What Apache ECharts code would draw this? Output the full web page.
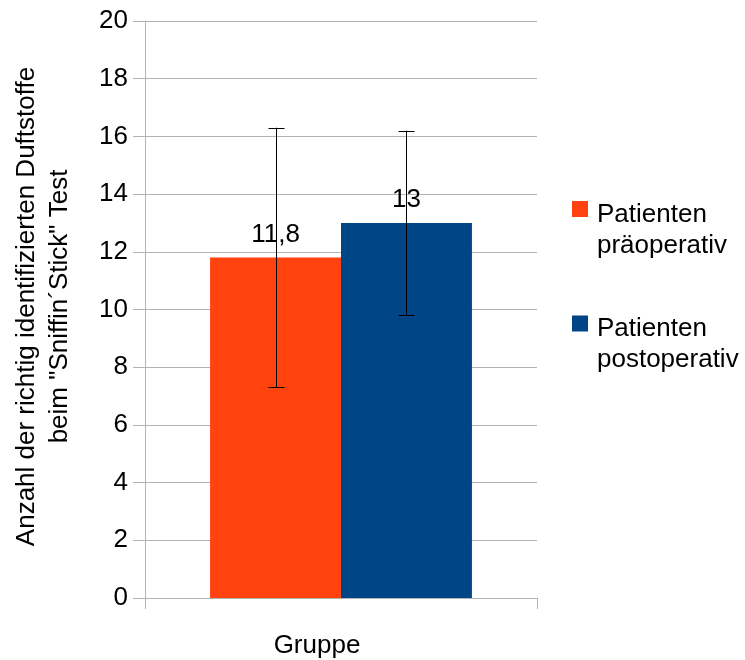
<!DOCTYPE html>
<html>
<head>
<meta charset="utf-8">
<script src="https://cdn.jsdelivr.net/npm/echarts@6/dist/echarts.min.js"></script>
<style>html,body{margin:0;padding:0;background:#fff}#c{width:745px;height:660px}</style>
</head>
<body>
<div id="c"></div>
<script>
const categories = ['Gruppe'];
const seriesNames = ['Patienten\npräoperativ', 'Patienten\npostoperativ'];
const meanPre = [11.8];
const meanPost = [13];
const errPre = [[7.3, 16.3]];
const errPost = [[9.8, 16.2]];
const yTicks = { min: 0, max: 20, interval: 2 };

const FONT = 'Liberation Sans';
const FS = 26;
const colors = ['#ff420e', '#004586'];
const fmt = v => String(v).replace('.', ',');

function errRenderer(sign) {
  return function (params, api) {
    const x = api.value(0), lo = api.value(1), hi = api.value(2);
    const band = api.size([1, 0])[0];
    const off = sign * band * 0.167;
    const a = api.coord([x, lo]), b = api.coord([x, hi]);
    const cx = Math.round(a[0] + off) + 0.5;
    const cap = 8;
    const st = { stroke: '#000', lineWidth: 1 };
    return {
      type: 'group',
      children: [
        { type: 'line', shape: { x1: cx, y1: a[1], x2: cx, y2: b[1] }, style: st },
        { type: 'line', shape: { x1: cx - cap, y1: Math.round(a[1]) + 0.5, x2: cx + cap, y2: Math.round(a[1]) + 0.5 }, style: st },
        { type: 'line', shape: { x1: cx - cap, y1: Math.round(b[1]) + 0.5, x2: cx + cap, y2: Math.round(b[1]) + 0.5 }, style: st }
      ]
    };
  };
}

const chart = echarts.init(document.getElementById('c'), null, { renderer: 'canvas' });
chart.setOption({
  animation: false,
  backgroundColor: '#fff',
  textStyle: { fontFamily: FONT },
  grid: { left: 145, right: 208, top: 21, bottom: 62, containLabel: false, outerBoundsMode: 'none' },
  legend: {
    orient: 'vertical',
    left: 572,
    top: 173,
    padding: 0,
    itemWidth: 16,
    itemHeight: 16,
    itemGap: 29,
    icon: 'rect',
    selectedMode: false,
    formatter: name => '{s| }\n' + name.split('\n').map(l => '{t|' + l + '}').join('\n'),
    textStyle: {
      fontFamily: FONT, fontSize: FS, color: '#000',
      rich: {
        s: { fontSize: 10, lineHeight: 42, padding: [0, 0, 0, 4] },
        t: { fontFamily: FONT, fontSize: FS, color: '#000', lineHeight: 31, padding: [0, 0, 0, 4] }
      }
    },
    data: seriesNames
  },
  xAxis: {
    type: 'category',
    data: categories,
    name: 'Gruppe',
    nameLocation: 'middle',
    nameGap: 35,
    nameTextStyle: { fontFamily: FONT, fontSize: FS, color: '#000', padding: [0, 48, 0, 0] },
    axisLine: { lineStyle: { color: '#b3b3b3' } },
    axisTick: { show: true, length: 11, lineStyle: { color: '#b3b3b3' } },
    axisLabel: { show: false },
    splitLine: { show: false }
  },
  yAxis: {
    type: 'value',
    min: yTicks.min,
    max: yTicks.max,
    interval: yTicks.interval,
    name: 'Anzahl der richtig identifizierten Duftstoffe\nbeim "Sniffin´Stick" Test',
    nameLocation: 'middle',
    nameGap: 69,
    nameTextStyle: { fontFamily: FONT, fontSize: FS, color: '#000', lineHeight: 33, padding: [0, 0, 0, 6] },
    axisLine: { show: true, lineStyle: { color: '#b3b3b3' } },
    axisTick: { show: true, length: 12, lineStyle: { color: '#b3b3b3' } },
    axisLabel: { fontFamily: FONT, fontSize: FS, color: '#000', margin: 17 },
    splitLine: { lineStyle: { color: '#b3b3b3' } }
  },
  series: [
    {
      name: seriesNames[0], type: 'bar', data: meanPre, barWidth: '33.4%', barGap: '0%',
      itemStyle: { color: colors[0] },
      label: { show: true, position: 'top', distance: 10, fontFamily: FONT, fontSize: FS, color: '#000', formatter: p => fmt(p.value) }
    },
    {
      name: seriesNames[1], type: 'bar', data: meanPost, barWidth: '33.4%', barGap: '0%',
      itemStyle: { color: colors[1] },
      label: { show: true, position: 'top', distance: 10, fontFamily: FONT, fontSize: FS, color: '#000', formatter: p => fmt(p.value) }
    },
    {
      type: 'custom', name: 'errPre', renderItem: errRenderer(-1), z: 10,
      data: errPre.map((e, i) => [i, e[0], e[1]]), encode: { x: 0, y: [1, 2] }
    },
    {
      type: 'custom', name: 'errPost', renderItem: errRenderer(1), z: 10,
      data: errPost.map((e, i) => [i, e[0], e[1]]), encode: { x: 0, y: [1, 2] }
    }
  ]
});
</script>
</body>
</html>
